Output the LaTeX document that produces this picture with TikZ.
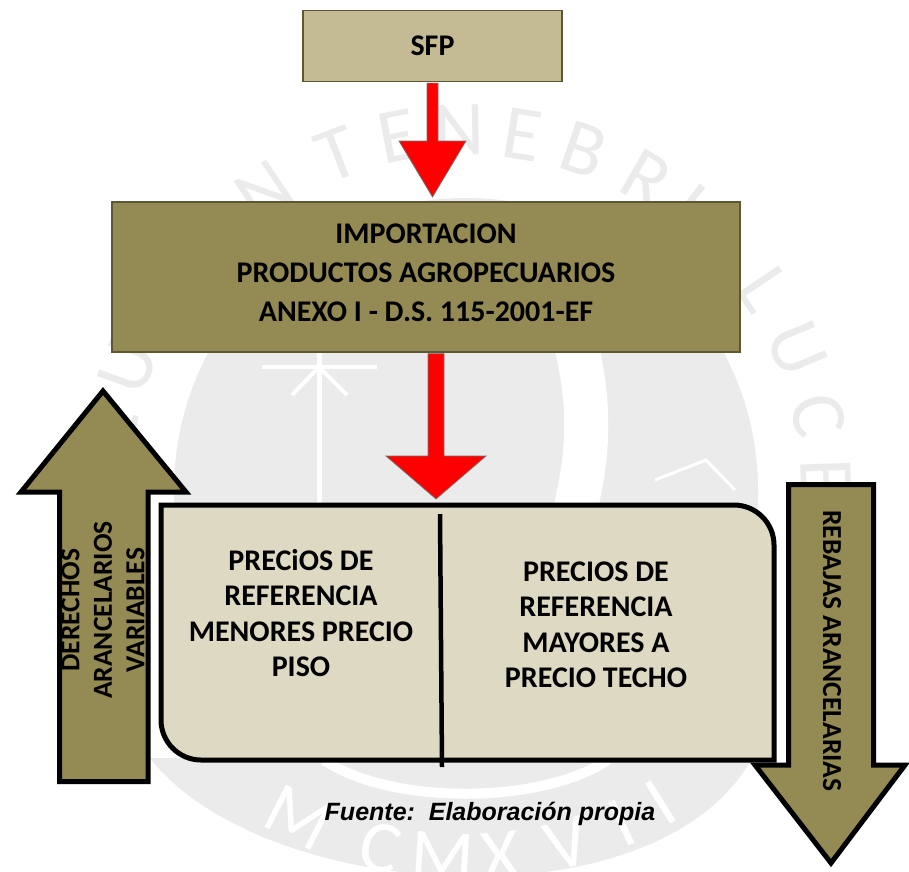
\documentclass[tikz,border=0pt]{standalone}
\usepackage{fontspec}
\usetikzlibrary{calc}
\setmainfont{Carlito}
\newfontfamily\fuentefont{Liberation Sans}
\definecolor{sfpfill}{HTML}{C4BB95}
\definecolor{olive}{HTML}{948A54}
\definecolor{pale}{HTML}{DDD9C3}
\definecolor{boxedge}{HTML}{5C5734}
\definecolor{wm}{HTML}{EBEBEB}
\tikzset{
  flatbox/.style={draw=boxedge,line width=1.6pt,minimum width=#1,inner sep=0pt,align=center,font=\bfseries\fontsize{30}{39}\selectfont},
  redblock/.style={fill=red,draw=black!55,line width=0.7pt,line join=miter},
  blackblock/.style={fill=olive,draw=black,line width=5pt,line join=miter,miter limit=10},
  celltext/.style={align=center,inner sep=0pt,font=\bfseries\fontsize{30}{35.5}\selectfont},
  arrowtext/.style={align=center,inner sep=0pt,font=\bfseries\fontsize{27.5}{32.5}\selectfont},
  wmletter/.style={text=wm,inner sep=0pt,font=\fontsize{78}{78}\selectfont},
  wmwhite/.style={text=white,inner sep=0pt,font=\fontsize{74}{74}\selectfont}
}
\begin{document}
\begin{tikzpicture}[x=1pt,y=-1pt]
\useasboundingbox (0,0) rectangle (909,871);
\begin{scope}
\clip (0,0) rectangle (909,871);
% watermark
\fill[wm] (466,490) circle (292);
\fill[wm] (150,758) .. controls (260,900) and (650,930) .. (750,762) -- cycle;
\draw[white,line width=10pt] (324,760) .. controls (390,805) and (540,805) .. (608,760);
\draw[white,line width=44pt] (575,340) .. controls (590,400) and (590,450) .. (575,510);
\draw[white,line width=4pt] (262,367) -- (377,367);
\draw[white,line width=5pt] (319,352) -- (319,505);
\draw[white,line width=4pt] (292,395) -- (319,367) -- (347,395);
\draw[white,line width=3pt,line join=round] (655,480) -- (706,460) -- (735,490);
\foreach \a/\l [count=\i] in {-80/L,-70/U,-34/N,-21/T,-11/E,-1/N,9/E,19/B,30/R,38/I,56/L,67/U,78/C,88/E}
  \node[wmletter,rotate=-\a] (wmtop\i) at ({466+360*sin(\a)},{490-360*cos(\a)}) {\l};
\foreach \a/\l [count=\i] in {-27/M,-13.5/C,-3.6/M,5.4/X,16/V,25/I,32/I}
  \node[wmwhite,rotate=\a] (wmbot\i) at ({466+368*sin(\a)},{490+368*cos(\a)}) {\l};
% right arrow, behind the box
\draw[blackblock] (788.5,484.5) -- (873.5,484.5) -- (873.5,765) -- (905,765) -- (831,863) -- (755,765) -- (788.5,765) -- cycle;
\end{scope}
% left arrow
\draw[blackblock] (103,391) -- (186,492) -- (148,492) -- (148,781.5) -- (59.5,781.5) -- (59.5,492) -- (21,492) -- cycle;
% boxes
\node[flatbox=259pt,fill=sfpfill,minimum height=71pt] (sfp) at (432.5,46) {SFP};
\node[flatbox=628pt,fill=olive,minimum height=150pt] (imp) at (426,277) {};
\node[inner sep=0pt,align=center,font=\bfseries\fontsize{30}{39}\selectfont] (imptext) at (426,273) {IMPORTACION\\PRODUCTOS AGROPECUARIOS\\ANEXO I - D.S. 115-2001-EF};
% red arrows
\coordinate (tipa) at (432.5,197);
\coordinate (tipb) at (436,499);
\draw[redblock] ($(sfp.south)+(-5.5,0.8)$) -- ($(sfp.south)+(5.5,0.8)$) -- (438,141) -- (466,141) -- (tipa) -- (399,141) -- (427,141) -- cycle;
\coordinate (impout) at ($(imp.south)+(10,0.8)$);
\draw[redblock] ($(impout)+(-8,0)$) -- ($(impout)+(8,0)$) -- (444,456) -- (486,456) -- (tipb) -- (386,456) -- (428,456) -- cycle;
% main box
\draw[fill=pale,draw=black,line width=5pt,line join=miter] (161,505) -- (734,505) .. controls (756,505) and (774,523) .. (774,545) -- (774,760) -- (201,760) .. controls (179,760) and (161,742) .. (161,720) -- cycle;
\coordinate (divtop) at (440,514);
\coordinate (divbot) at (442,767);
\draw[black,line width=4.5pt] (divtop) -- (divbot);
\node[celltext] (left) at (301,613) {PRECiOS DE\\REFERENCIA\\MENORES PRECIO\\PISO};
\node[celltext] (right) at (596,625) {PRECIOS DE\\REFERENCIA\\MAYORES A\\PRECIO TECHO};
\node[arrowtext,rotate=90] (der) at (103,610) {DERECHOS\\ARANCELARIOS\\VARIABLES};
\node[inner sep=0pt,font=\bfseries\fontsize{27.5}{32}\selectfont,rotate=-90] (reb) at (832,651) {REBAJAS ARANCELARIAS};
\node[inner sep=0pt,font=\fuentefont\bfseries\itshape\fontsize{25}{30}\selectfont] (fuente) at (490,814) {Fuente:\ \ Elaboración propia};
\end{tikzpicture}
\end{document}
